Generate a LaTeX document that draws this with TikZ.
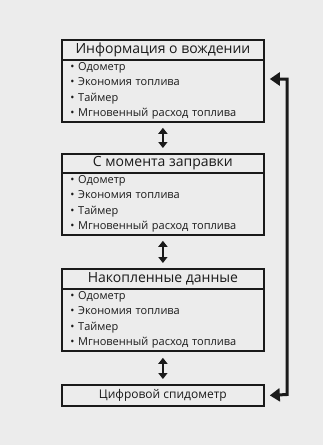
\documentclass[tikz,border=0pt]{standalone}
\usepackage{fontspec}
\setmainfont{Open Sans}
\usetikzlibrary{arrows.meta}
\definecolor{bgc}{HTML}{ECECEC}
\definecolor{ink}{HTML}{1A1A1A}
\begin{document}
\begin{tikzpicture}[x=1pt,y=-1pt,
  titlebox/.style={draw=ink, line width=1.8pt, fill=bgc, minimum width=202pt, minimum height=20pt,
    inner sep=0pt, anchor=north west, text=ink, font=\fontsize{14}{15}\selectfont},
  listbox/.style={draw=ink, line width=1.8pt, fill=bgc, minimum width=202pt, minimum height=62pt,
    inner xsep=8.5pt, inner ysep=0pt, text width=185pt, align=left, anchor=north west, text=ink,
    font=\fontsize{11}{15.3}\selectfont},
  lastbox/.style={draw=ink, line width=1.8pt, fill=bgc, minimum width=202pt, minimum height=21pt,
    inner sep=0pt, anchor=north west, text=ink, font=\fontsize{12}{13}\selectfont},
  dbl/.style={draw=ink, line width=2pt, {Triangle[width=9pt,length=6pt]}-{Triangle[width=9pt,length=6pt]}},
  loop/.style={draw=ink, line width=3pt, {Triangle[width=13pt,length=10pt]}-{Triangle[width=13pt,length=10pt]}}
]
\fill[bgc] (0,0) rectangle (323,445);
\useasboundingbox (0,0) rectangle (323,445);

\node[listbox] (l1) at (61,59) {• Одометр\\• Экономия топлива\\• Таймер\\• Мгновенный расход топлива};
\node[titlebox] (t1) at (61,39) {Информация о вождении};

\node[listbox] (l2) at (61,172) {• Одометр\\• Экономия топлива\\• Таймер\\• Мгновенный расход топлива};
\node[titlebox, minimum height=19pt] (t2) at (61,153) {С момента заправки};

\node[listbox] (l3) at (61,288) {• Одометр\\• Экономия топлива\\• Таймер\\• Мгновенный расход топлива};
\node[titlebox] (t3) at (61,268) {Накопленные данные};

\node[lastbox] (b4) at (61,384) {Цифровой спидометр};

\draw[dbl] ([yshift=-5pt]l1.south) -- ([yshift=5pt]t2.north);
\draw[dbl] ([yshift=-5pt]l2.south) -- ([yshift=5pt]t3.north);
\draw[dbl] ([yshift=-6pt]l3.south) -- ([yshift=5pt]b4.north);

\coordinate (c1) at (287,79);
\coordinate (c2) at (287,394.5);
\draw[loop] ([xshift=5pt]l1.east |- c1) -- (c1) -- (c2) -- ([xshift=5pt]b4.east);
\end{tikzpicture}
\end{document}
